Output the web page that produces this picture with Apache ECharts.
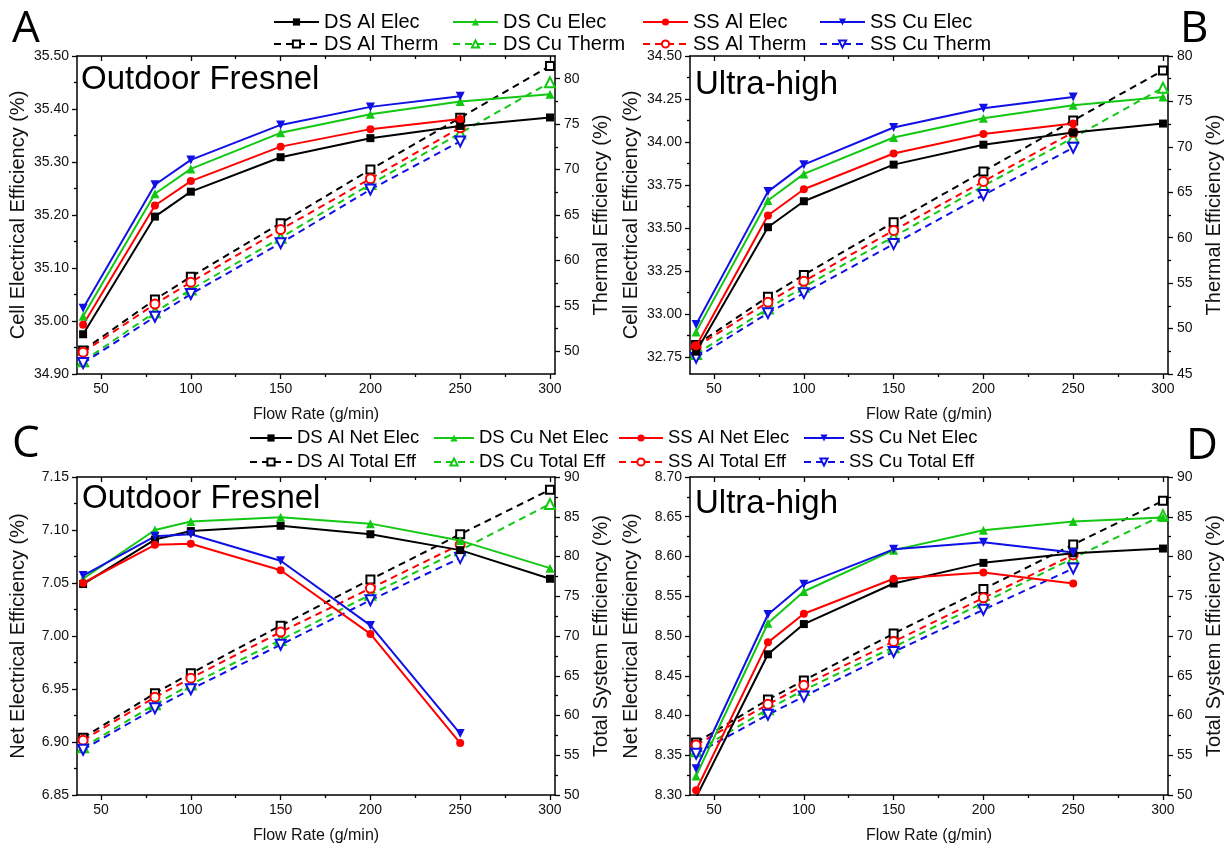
<!DOCTYPE html>
<html><head><meta charset="utf-8">
<script src="https://cdn.jsdelivr.net/npm/echarts@6/dist/echarts.min.js"></script>
<style>html,body{margin:0;padding:0;background:#fff}#c{width:1229px;height:847px}</style>
</head><body><div id="c"></div>
<script>
// ---------- DATA ----------
const flowRate = [40, 80, 100, 150, 200, 250, 300];

// Panel A – Outdoor Fresnel (cell electrical / thermal efficiency)
const aDsAlElec  = [34.975, 35.197, 35.244, 35.309, 35.345, 35.368, 35.384];
const aDsCuElec  = [35.009, 35.240, 35.287, 35.355, 35.390, 35.414, 35.428];
const aSsAlElec  = [34.993, 35.218, 35.264, 35.329, 35.362, 35.381];
const aSsCuElec  = [35.024, 35.257, 35.304, 35.370, 35.404, 35.424];
const aDsAlTherm = [50.1, 55.7, 58.2, 64.1, 70.0, 75.7, 81.4];
const aDsCuTherm = [48.9, 54.3, 56.8, 62.5, 68.4, 74.0, 79.6];
const aSsAlTherm = [49.9, 55.2, 57.6, 63.4, 69.0, 74.6];
const aSsCuTherm = [48.7, 53.8, 56.3, 61.9, 67.8, 73.1];

// Panel B – Ultra-high
const bDsAlElec  = [32.780, 33.504, 33.655, 33.868, 33.984, 34.055, 34.107];
const bDsCuElec  = [32.895, 33.659, 33.814, 34.026, 34.138, 34.214, 34.262];
const bSsAlElec  = [32.812, 33.572, 33.725, 33.933, 34.046, 34.107];
const bSsCuElec  = [32.938, 33.711, 33.868, 34.084, 34.196, 34.262];
const bDsAlTherm = [48.2, 53.5, 55.9, 61.7, 67.3, 72.9, 78.4];
const bDsCuTherm = [47.2, 52.2, 54.6, 60.1, 65.7, 71.0, 76.5];
const bSsAlTherm = [48.0, 52.9, 55.2, 60.8, 66.2, 71.6];
const bSsCuTherm = [46.8, 51.7, 53.9, 59.3, 64.7, 69.9];

// Panel C – Outdoor Fresnel (net electrical / total system efficiency)
const cDsAlNet   = [7.049, 7.091, 7.099, 7.104, 7.096, 7.081, 7.054];
const cDsCuNet   = [7.054, 7.100, 7.108, 7.112, 7.106, 7.090, 7.064];
const cSsAlNet   = [7.050, 7.086, 7.087, 7.062, 7.002, 6.899];
const cSsCuNet   = [7.057, 7.094, 7.096, 7.071, 7.010, 6.908];
const cDsAlTotal = [57.2, 62.8, 65.3, 71.3, 77.1, 82.8, 88.4];
const cDsCuTotal = [56.0, 61.4, 63.9, 69.5, 75.2, 80.8, 86.6];
const cSsAlTotal = [56.9, 62.3, 64.7, 70.5, 76.0, 81.5];
const cSsCuTotal = [55.7, 60.9, 63.3, 68.9, 74.5, 79.8];

// Panel D – Ultra-high
const dDsAlNet   = [8.297, 8.477, 8.515, 8.566, 8.592, 8.604, 8.610];
const dDsCuNet   = [8.324, 8.516, 8.556, 8.608, 8.633, 8.644, 8.649];
const dSsAlNet   = [8.306, 8.492, 8.528, 8.572, 8.580, 8.566];
const dSsCuNet   = [8.333, 8.527, 8.565, 8.609, 8.618, 8.605];
const dDsAlTotal = [56.6, 62.0, 64.4, 70.3, 75.9, 81.5, 87.0];
const dDsCuTotal = [55.5, 60.8, 63.2, 68.6, 74.2, 79.8, 85.2];
const dSsAlTotal = [56.3, 61.4, 63.8, 69.3, 74.8, 80.2];
const dSsCuTotal = [55.2, 60.1, 62.4, 68.0, 73.3, 78.5];

// Tick labels
const xTicks      = [50, 100, 150, 200, 250, 300];
const aLeftTicks  = [34.90, 35.00, 35.10, 35.20, 35.30, 35.40, 35.50];
const aRightTicks = [50, 55, 60, 65, 70, 75, 80];
const bLeftTicks  = [32.75, 33.00, 33.25, 33.50, 33.75, 34.00, 34.25, 34.50];
const bRightTicks = [45, 50, 55, 60, 65, 70, 75, 80];
const cLeftTicks  = [6.85, 6.90, 6.95, 7.00, 7.05, 7.10, 7.15];
const cRightTicks = [50, 55, 60, 65, 70, 75, 80, 85, 90];
const dLeftTicks  = [8.30, 8.35, 8.40, 8.45, 8.50, 8.55, 8.60, 8.65, 8.70];
const dRightTicks = [50, 55, 60, 65, 70, 75, 80, 85, 90];

// ---------- STYLE ----------
const FONT = 'Liberation Sans, Arial, sans-serif';
const COL = {black: '#000000', green: '#12c812', red: '#ff0000', blue: '#1010e6'};
const X_RANGE = [36.6, 302.8];

function minors(ticks, min, max) {
  const step = ticks[1] - ticks[0];
  const out = [];
  for (let v = ticks[0] - step / 2; v < max + step; v += step) {
    if (v > min + 1e-6 && v < max - 1e-6) out.push(+v.toFixed(5));
  }
  return out;
}

const panels = [
  {left: 77, top: 56, yL: [34.90, 35.50, aLeftTicks], yR: [47.5, 82.5, aRightTicks],
   nameL: 'Cell Electrical Efficiency (%)', nameR: 'Thermal Efficiency (%)',
   kind: ['Elec', 'Therm'],
   elec: [aDsAlElec, aDsCuElec, aSsAlElec, aSsCuElec], therm: [aDsAlTherm, aDsCuTherm, aSsAlTherm, aSsCuTherm]},
  {left: 690, top: 56, yL: [32.65, 34.50, bLeftTicks], yR: [45, 80, bRightTicks],
   nameL: 'Cell Electrical Efficiency (%)', nameR: 'Thermal Efficiency (%)',
   kind: ['Elec', 'Therm'],
   elec: [bDsAlElec, bDsCuElec, bSsAlElec, bSsCuElec], therm: [bDsAlTherm, bDsCuTherm, bSsAlTherm, bSsCuTherm]},
  {left: 77, top: 477, yL: [6.85, 7.15, cLeftTicks], yR: [50, 90, cRightTicks],
   nameL: 'Net Electrical Efficiency (%)', nameR: 'Total System Efficiency (%)',
   kind: ['Net Elec', 'Total Eff'],
   elec: [cDsAlNet, cDsCuNet, cSsAlNet, cSsCuNet], therm: [cDsAlTotal, cDsCuTotal, cSsAlTotal, cSsCuTotal]},
  {left: 690, top: 477, yL: [8.30, 8.70, dLeftTicks], yR: [50, 90, dRightTicks],
   nameL: 'Net Electrical Efficiency (%)', nameR: 'Total System Efficiency (%)',
   kind: ['Net Elec', 'Total Eff'],
   elec: [dDsAlNet, dDsCuNet, dSsAlNet, dSsCuNet], therm: [dDsAlTotal, dDsCuTotal, dSsAlTotal, dSsCuTotal]}
];

const seriesDefs = [
  {tag: 'DS Al', color: COL.black, sym: 'rect', esym: 'emptyRect', rot: 0, size: 8, esize: 8},
  {tag: 'DS Cu', color: COL.green, sym: 'triangle', esym: 'emptyTriangle', rot: 0, size: 9, esize: 10},
  {tag: 'SS Al', color: COL.red, sym: 'circle', esym: 'emptyCircle', rot: 0, size: 8, esize: 9},
  {tag: 'SS Cu', color: COL.blue, sym: 'triangle', esym: 'emptyTriangle', rot: 180, size: 9, esize: 10}
];

const grids = [], xAxes = [], yAxes = [], series = [];
const axisLineStyle = {color: '#000', width: 1.5};
const tickLine = {color: '#000', width: 1.3};
const labelStyle = {fontSize: 14, color: '#111', fontFamily: FONT};

panels.forEach((p, gi) => {
  grids.push({left: p.left, top: p.top, width: 478, height: 318, containLabel: false});
  const xMin = minors(xTicks, X_RANGE[0], X_RANGE[1]);
  const xb = xAxes.length;
  xAxes.push({gridIndex: gi, type: 'value', position: 'bottom', min: X_RANGE[0], max: X_RANGE[1],
    axisLine: {lineStyle: axisLineStyle}, splitLine: {show: false},
    axisTick: {inside: false, length: 5, customValues: xTicks, lineStyle: tickLine},
    axisLabel: {customValues: xTicks, margin: 8, ...labelStyle},
    name: 'Flow Rate (g/min)', nameLocation: 'middle', nameGap: 33,
    nameTextStyle: {fontSize: 16, color: '#111', fontFamily: FONT}});
  xAxes.push({gridIndex: gi, type: 'value', position: 'bottom', min: X_RANGE[0], max: X_RANGE[1],
    axisLine: {show: false}, splitLine: {show: false}, axisLabel: {show: false},
    axisTick: {inside: false, length: 3, customValues: xMin, lineStyle: tickLine}});
  xAxes.push({gridIndex: gi, type: 'value', position: 'top', min: X_RANGE[0], max: X_RANGE[1],
    axisLine: {lineStyle: axisLineStyle}, splitLine: {show: false}, axisLabel: {show: false},
    axisTick: {inside: true, length: 5, customValues: xTicks, lineStyle: tickLine}});
  xAxes.push({gridIndex: gi, type: 'value', position: 'top', min: X_RANGE[0], max: X_RANGE[1],
    axisLine: {show: false}, splitLine: {show: false}, axisLabel: {show: false},
    axisTick: {inside: true, length: 3, customValues: xMin, lineStyle: tickLine}});

  const yb = yAxes.length;
  const [lMin, lMax, lT] = p.yL, [rMin, rMax, rT] = p.yR;
  yAxes.push({gridIndex: gi, type: 'value', position: 'left', min: lMin, max: lMax,
    axisLine: {show: true, lineStyle: axisLineStyle}, splitLine: {show: false},
    axisTick: {show: true, inside: false, length: 5, customValues: lT, lineStyle: tickLine},
    axisLabel: {customValues: lT, margin: 8, formatter: v => v.toFixed(2), ...labelStyle},
    name: p.nameL, nameLocation: 'middle', nameRotate: 90, nameGap: 49,
    nameTextStyle: {fontSize: 20, color: '#111', fontFamily: FONT}});
  yAxes.push({gridIndex: gi, type: 'value', position: 'left', min: lMin, max: lMax,
    axisLine: {show: false}, splitLine: {show: false}, axisLabel: {show: false},
    axisTick: {show: true, inside: false, length: 3, customValues: minors(lT, lMin, lMax), lineStyle: tickLine}});
  yAxes.push({gridIndex: gi, type: 'value', position: 'right', min: rMin, max: rMax,
    axisLine: {show: true, lineStyle: axisLineStyle}, splitLine: {show: false},
    axisTick: {show: true, inside: false, length: 5, customValues: rT, lineStyle: tickLine},
    axisLabel: {customValues: rT, margin: 9, ...labelStyle},
    name: p.nameR, nameLocation: 'middle', nameRotate: 90, nameGap: 36,
    nameTextStyle: {fontSize: 20, color: '#111', fontFamily: FONT}});
  yAxes.push({gridIndex: gi, type: 'value', position: 'right', min: rMin, max: rMax,
    axisLine: {show: false}, splitLine: {show: false}, axisLabel: {show: false},
    axisTick: {show: true, inside: false, length: 3, customValues: minors(rT, rMin, rMax), lineStyle: tickLine}});

  const pts = vals => vals.map((v, i) => [flowRate[i], v]);
  seriesDefs.forEach((d, k) => {
    series.push({type: 'line', name: d.tag + ' ' + p.kind[1], xAxisIndex: xb, yAxisIndex: yb + 2,
      data: pts(p.therm[k]), symbol: d.esym, symbolSize: d.esize, symbolRotate: d.rot,
      color: d.color, lineStyle: {color: d.color, width: 2, type: [7, 5]},
      itemStyle: {color: d.color, borderColor: d.color, borderWidth: 1.3}, z: 2});
  });
  seriesDefs.forEach((d, k) => {
    series.push({type: 'line', name: d.tag + ' ' + p.kind[0], xAxisIndex: xb, yAxisIndex: yb,
      data: pts(p.elec[k]), symbol: d.sym, symbolSize: d.size, symbolRotate: d.rot,
      color: d.color, lineStyle: {color: d.color, width: 2, type: 'solid'},
      itemStyle: {color: d.color}, z: 3});
  });
});

function legendCol(left, top, names, width, lh, fs) {
  return {left: left, top: top, orient: 'vertical', padding: 0, itemGap: 0,
    itemWidth: width, itemHeight: 9, data: names, selectedMode: false,
    textStyle: {fontSize: fs, color: '#000', fontFamily: FONT, lineHeight: lh}};
}
const legends = [
  legendCol(273, 11, ['DS Al Elec', 'DS Al Therm'], 45, 22, 20),
  legendCol(452, 11, ['DS Cu Elec', 'DS Cu Therm'], 45, 22, 20),
  legendCol(642, 11, ['SS Al Elec', 'SS Al Therm'], 45, 22, 20),
  legendCol(819, 11, ['SS Cu Elec', 'SS Cu Therm'], 45, 22, 20),
  legendCol(249, 426, ['DS Al Net Elec', 'DS Al Total Eff'], 42, 24, 18.5),
  legendCol(433, 426, ['DS Cu Net Elec', 'DS Cu Total Eff'], 40, 24, 18.5),
  legendCol(618, 426, ['SS Al Net Elec', 'SS Al Total Eff'], 44, 24, 18.5),
  legendCol(803, 426, ['SS Cu Net Elec', 'SS Cu Total Eff'], 40, 24, 18.5)
];

function txt(x, y, s, size, fam) {
  return {type: 'text', x: x, y: y, z: 10,
    style: {x: 0, y: 0, text: s, fill: '#000', font: size + 'px ' + fam, verticalAlign: 'middle', align: 'left'}};
}
const graphics = [
  txt(12, 29, 'A', 44, '"Open Sans", sans-serif'),
  txt(1180, 29, 'B', 44, '"Open Sans", sans-serif'),
  txt(12, 444, 'C', 44, '"Open Sans", sans-serif'),
  txt(1186, 446, 'D', 44, '"Open Sans", sans-serif'),
  txt(81, 80, 'Outdoor Fresnel', 33, FONT),
  txt(695, 85, 'Ultra-high', 33, FONT),
  txt(82, 499, 'Outdoor Fresnel', 33, FONT),
  txt(695, 504, 'Ultra-high', 33, FONT)
];

const chart = echarts.init(document.getElementById('c'), null, {renderer: 'canvas'});
chart.setOption({
  animation: false,
  backgroundColor: '#fff',
  grid: grids, xAxis: xAxes, yAxis: yAxes, series: series,
  legend: legends, graphic: graphics
});
</script></body></html>
